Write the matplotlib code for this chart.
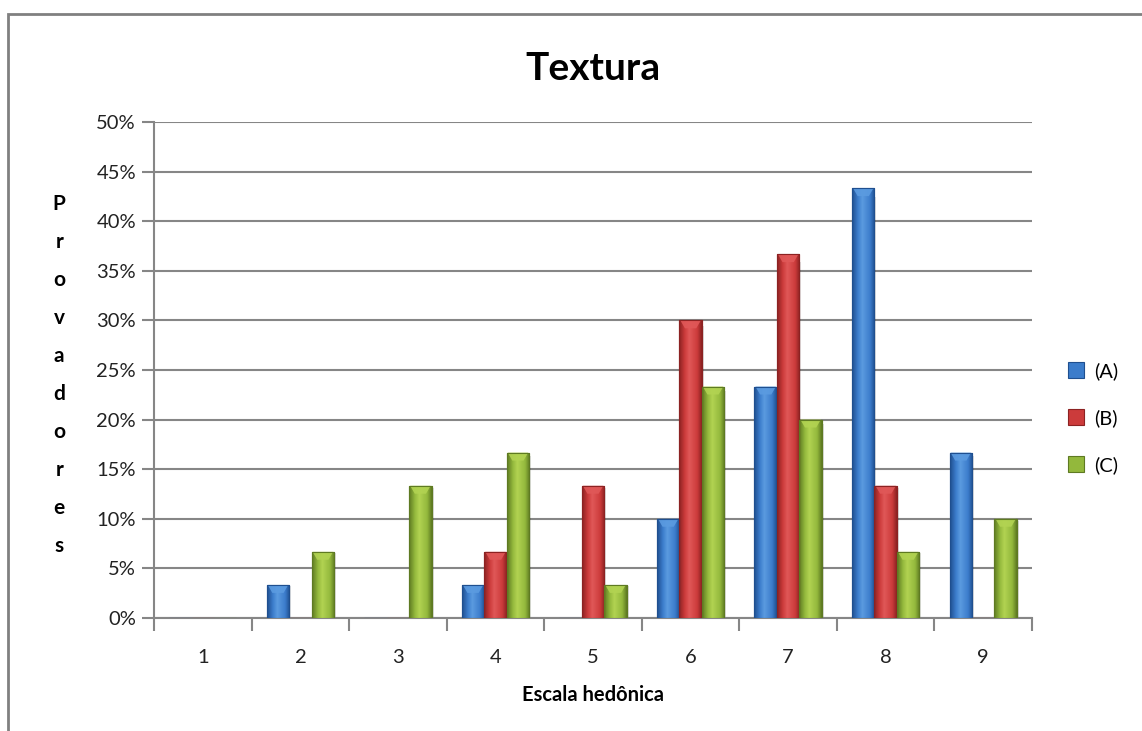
import numpy as np
import matplotlib.pyplot as plt
from matplotlib.colors import LinearSegmentedColormap
from matplotlib.patches import Rectangle, Polygon

plt.rcParams['font.family'] = ['Lato', 'DejaVu Sans']

categorias = [1, 2, 3, 4, 5, 6, 7, 8, 9]
serie_a = [0, 3.33, 0, 3.33, 0, 10.0, 23.33, 43.33, 16.67]
serie_b = [0, 0, 0, 6.67, 13.33, 30.0, 36.67, 13.33, 0]
serie_c = [0, 6.67, 13.33, 16.67, 3.33, 23.33, 20.0, 6.67, 10.0]
nomes = ['(A)', '(B)', '(C)']
y_ticks = [0, 5, 10, 15, 20, 25, 30, 35, 40, 45, 50]

# cor escura, cor media, cor clara para cada serie
cores = [('#1f4f8f', '#3b7ccb', '#5b9be0'),
         ('#8c2222', '#cc3b3b', '#e05858'),
         ('#5e7a22', '#93b83c', '#b2d352')]

fig = plt.figure(figsize=(11.42, 7.31), dpi=100)
ax = fig.add_axes([0.1349, 0.1546, 0.7688, 0.6785])

# moldura do grafico
fig.patches.append(Rectangle((8 / 1142, -0.05), 1.2, (731 - 14) / 731 + 0.05,
                             transform=fig.transFigure, fill=False,
                             edgecolor='#808080', linewidth=2))

x = np.arange(len(categorias)) + 1
w = 0.23
grad = np.linspace(0, 1, 64)
grad = np.vstack([grad, grad])

for i, serie in enumerate([serie_a, serie_b, serie_c]):
    escuro, medio, claro = cores[i]
    cmap = LinearSegmentedColormap.from_list(
        'g%d' % i, [(0, escuro), (0.25, medio), (0.45, claro), (0.8, medio), (1, escuro)])
    xs = x + (i - 1) * w
    bars = ax.bar(xs, serie, width=w, color=medio, edgecolor=escuro,
                  linewidth=0.8, zorder=3, label=nomes[i])
    for b, v in zip(bars, serie):
        if v <= 0:
            continue
        x0 = b.get_x()
        x1 = x0 + b.get_width()
        # sombra suave
        ax.add_patch(Rectangle((x1, 0), 0.02, v * 0.98, color='#000000',
                               alpha=0.12, zorder=2, linewidth=0))
        im = ax.imshow(grad, cmap=cmap, aspect='auto', extent=(x0, x1, 0, v),
                       zorder=3.5, interpolation='bilinear')
        im.set_clip_path(b)
        # chanfro claro no topo
        d = min(0.8, v * 0.3)
        ax.add_patch(Polygon([(x0 + 0.01, v), (x1 - 0.01, v), (x0 + w * 0.75, v - d),
                              (x0 + w * 0.25, v - d)],
                             closed=True, color=claro, alpha=0.9, zorder=4, linewidth=0))
        ax.add_patch(Rectangle((x0, 0), x1 - x0, v, fill=False, edgecolor=escuro,
                               linewidth=0.8, zorder=4.5))

ax.set_xlim(0.5, 9.5)
ax.set_ylim(0, 50)
ax.set_yticks(y_ticks)
ax.set_yticklabels(['%d%%' % t for t in y_ticks], fontsize=14.5, color='#222222')
ax.set_xticks(x)
ax.set_xticklabels([str(c) for c in categorias], fontsize=14.5, color='#222222')
ax.set_xticks(np.arange(0.5, 10, 1), minor=True)
ax.tick_params(axis='x', which='major', length=0, pad=22)
ax.tick_params(axis='x', which='minor', length=9, width=1.5, color='#868686')
ax.tick_params(axis='y', length=9, width=1.5, color='#868686', pad=4)

ax.grid(axis='y', color='#868686', linewidth=1.5, zorder=0)
ax.set_axisbelow(True)
for s in ['top', 'right']:
    ax.spines[s].set_visible(False)
for s in ['left', 'bottom']:
    ax.spines[s].set_color('#868686')
    ax.spines[s].set_linewidth(1.5)

ax.set_title('Textura', fontsize=28, fontweight='bold', pad=30)
ax.set_xlabel('Escala hedônica', fontsize=14.5, fontweight='bold', labelpad=14)
ax.set_ylabel('\n'.join('Provadores'), fontsize=15, fontweight='bold',
              rotation=0, va='center', linespacing=2.12)
ax.yaxis.set_label_coords(-0.108, 0.49)

ax.legend(loc='center left', bbox_to_anchor=(1.02, 0.403), frameon=False,
          fontsize=14.5, handlelength=0.8, handleheight=0.8, labelspacing=1.45,
          handletextpad=0.5)

fig.savefig('out.png', dpi=100)
